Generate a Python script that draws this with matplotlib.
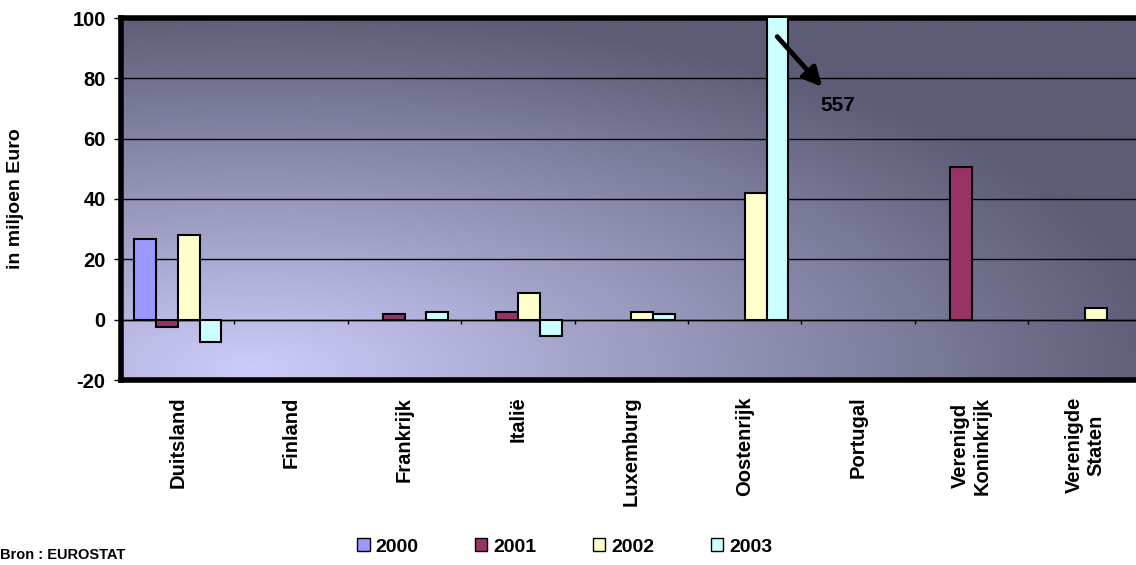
import numpy as np
import matplotlib.pyplot as plt
from matplotlib.patches import Patch

plt.rcParams['font.family'] = 'Liberation Sans'
plt.rcParams['font.weight'] = 'bold'
plt.rcParams['axes.unicode_minus'] = False

nan = np.nan
# data (in miljoen Euro), nan = geen waarde
landen = ["Duitsland", "Finland", "Frankrijk", "Italië", "Luxemburg",
          "Oostenrijk", "Portugal", "Verenigd\nKoninkrijk", "Verenigde\nStaten"]
jaren = ["2000", "2001", "2002", "2003"]
v2000 = [26.7, nan, nan, nan, nan, nan, nan, nan, nan]
v2001 = [-2.3, nan, 1.9, 2.7, nan, nan, nan, 50.7, nan]
v2002 = [28.0, nan, nan, 8.7, 2.7, 42.0, nan, nan, 4.0]
v2003 = [-7.5, nan, 2.7, -5.5, 1.8, 557, nan, nan, nan]
kleuren = ["#9999ff", "#993366", "#ffffcc", "#ccffff"]

fig = plt.figure(figsize=(11.36, 5.65), dpi=100)
ax = fig.add_axes([121/1136, 1-380/565, 1-121/1136+0.005, 362/565])

# gradient background
gx, gy = np.meshgrid(np.linspace(0, 1, 400), np.linspace(0, 1, 200))
d = np.clip(np.sqrt(((gx-0.13)/0.9)**2 + ((gy-0.03)/1.0)**2), 0, 1)
licht = np.array([204, 204, 250]) / 255
donker = np.array([92, 92, 118]) / 255
img = licht[None, None, :]*(1-d[..., None]) + donker[None, None, :]*d[..., None]
ax.imshow(img, extent=[0, 1, 0, 1], transform=ax.transAxes, origin='lower',
          aspect='auto', zorder=0)
ax.set_facecolor('none')

x = np.arange(len(landen))
w = 0.1925
for i, (vals, c) in enumerate(zip([v2000, v2001, v2002, v2003], kleuren)):
    ax.bar(x + (i-1.5)*w, vals, w, color=c, edgecolor='black', linewidth=1.5,
           zorder=3, label=jaren[i])

ax.set_xlim(-0.5, len(landen)-0.5)
ax.set_ylim(-20, 100)
ax.set_yticks(range(-20, 101, 20))
ax.yaxis.grid(True, color='black', linewidth=1)
ax.set_axisbelow(True)
ax.axhline(0, color='black', linewidth=1, zorder=2)
# category tick marks on zero line
ax.vlines(np.arange(0.5, len(landen)-0.5), -1.6, 0, color='black', linewidth=1, zorder=2)

ax.set_xticks(x)
ax.set_xticklabels(landen, rotation=90, ha='center', va='top',
                   multialignment='center', fontsize=14.5, fontweight='bold')
ax.tick_params(axis='x', length=0, pad=12)
ax.tick_params(axis='y', labelsize=14.5, length=5, width=1, pad=6)
for lbl in ax.get_yticklabels():
    lbl.set_fontweight('bold')

for s in ['left', 'top', 'bottom']:
    ax.spines[s].set_linewidth(4)
ax.spines['right'].set_visible(False)

ax.set_ylabel("in miljoen Euro", fontsize=14, fontweight='bold')
ax.yaxis.set_label_coords(-0.095, 0.5)

ax.annotate('', xy=(5.70, 76.5), xytext=(5.27, 94.5),
            arrowprops=dict(arrowstyle='-|>', lw=3.5, color='black', mutation_scale=28))
ax.text(5.82, 71, '557', fontsize=15, fontweight='bold', ha='center', va='center')

handles = [Patch(facecolor=c, edgecolor='black', linewidth=1) for c in kleuren]
fig.legend(handles, jaren, loc='center', bbox_to_anchor=(0.497, 0.032), ncol=4,
           frameon=False, prop={'size': 14, 'weight': 'bold'},
           handlelength=0.65, handleheight=0.65, handletextpad=0.3, columnspacing=2.9)

fig.text(0.0, 0.018, 'Bron : EUROSTAT', fontsize=10.5, fontweight='bold',
         ha='left', va='center')

fig.savefig('out.png', dpi=100)
